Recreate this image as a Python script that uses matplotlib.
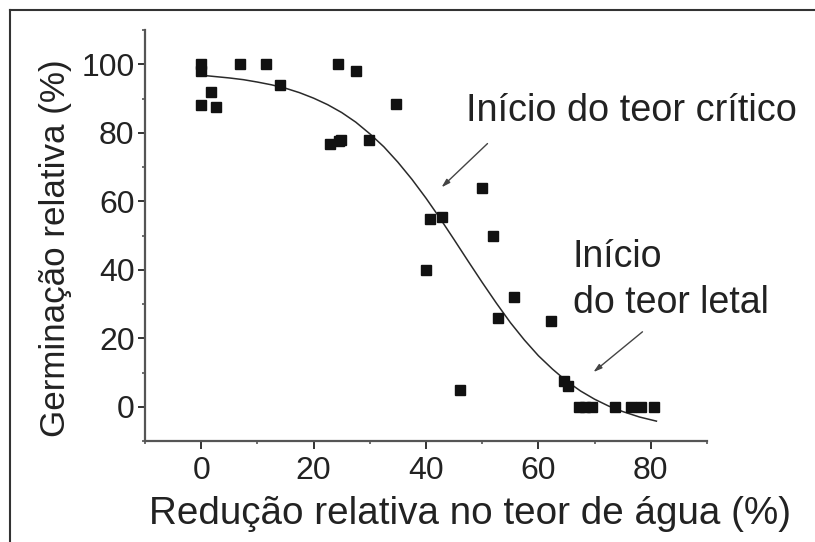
import numpy as np
import matplotlib
matplotlib.use("Agg")
import matplotlib.pyplot as plt
from matplotlib.lines import Line2D
from matplotlib.ticker import MultipleLocator

plt.rcParams['font.family'] = ['Liberation Sans', 'DejaVu Sans']

# Messpunkte
reducao = [0, 0, 0, 1.8, 2.7, 6.9, 11.5, 14.0, 22.9, 24.3, 24.5, 24.9, 27.6, 29.9,
           34.7, 40.0, 40.7, 42.9, 46.1, 49.9, 52.0, 52.9, 55.7, 62.3, 64.6, 65.2,
           67.3, 68.3, 69.5, 73.6, 76.5, 78.3, 80.6]
germinacao = [100, 98, 88, 92, 87.5, 100, 100, 94, 76.8, 100, 77.5, 78, 98, 78,
              88.5, 40, 54.8, 55.5, 5, 64, 50, 26, 32, 25, 7.5, 6, 0, 0, 0, 0, 0, 0, 0]

# angepasste Kurve
curva_x = [0, 2.5, 5, 7.5, 10, 12.5, 15, 17.5, 20, 22.5, 25, 27.5, 30, 32.5, 35,
           37.5, 40, 42.5, 45, 47.5, 50, 52.5, 55, 57.5, 60, 62.5, 65, 67.5, 70,
           72.5, 75, 78, 81]
curva_y = [96.8, 96.4, 96.0, 95.5, 94.8, 94.0, 93.0, 91.7, 90.1, 88.2, 85.9, 83.1,
           79.7, 75.9, 71.4, 66.4, 60.9, 55.0, 48.8, 42.5, 36.3, 30.3, 24.6, 19.5,
           14.9, 11.0, 7.5, 4.6, 2.2, 0.2, -1.4, -3.0, -4.2]

xticks = [0, 20, 40, 60, 80]
yticks = [0, 20, 40, 60, 80, 100]

fig = plt.figure(figsize=(8.15, 5.42), dpi=100)
ax = fig.add_axes([145 / 815, 101 / 542, 562 / 815, 411 / 542])

ax.plot(curva_x, curva_y, color='#2a2a2a', lw=1.1, zorder=2)
ax.plot(reducao, germinacao, 's', color='#111111', ms=7.2, zorder=3)

ax.set_xlim(-10, 90)
ax.set_ylim(-10, 110)
ax.set_xticks(xticks)
ax.set_yticks(yticks)
ax.xaxis.set_minor_locator(MultipleLocator(10))
ax.yaxis.set_minor_locator(MultipleLocator(10))

for s in ['top', 'right']:
    ax.spines[s].set_visible(False)
for s in ['left', 'bottom']:
    ax.spines[s].set_linewidth(1.6)
    ax.spines[s].set_color('#555555')

ax.tick_params(which='major', direction='out', length=5, width=1.4, color='#333333',
               labelsize=23, labelcolor='#222222', pad=2.5)
ax.tick_params(which='minor', direction='out', length=2.5, width=1.2, color='#555555')
ax.tick_params(axis='x', which='major', length=6, pad=5)

ax.set_xlabel("Redução relativa no teor de água (%)", fontsize=27.8, color='#222222')
ax.xaxis.set_label_coords(0.578, -0.135)
ax.set_ylabel("Germinação relativa (%)", fontsize=25.2, color='#222222')
ax.yaxis.set_label_coords(-0.13, 0.47)

# Anmerkungen
ax.text(47.1, 83.3, "Início do teor crítico", fontsize=27.3, color='#222222',
        va='baseline', ha='left', clip_on=False)
ax.annotate("", xy=(42.4, 63.5), xytext=(51.3, 77.4),
            arrowprops=dict(arrowstyle='-|>,head_length=0.5,head_width=0.15',
                            color='#444444', lw=1.0))
ax.text(66.1, 40.8, "Início", fontsize=27, color='#222222',
        va='baseline', ha='left', clip_on=False)
ax.text(66.1, 27.5, "do teor letal", fontsize=27, color='#222222',
        va='baseline', ha='left', clip_on=False)
ax.annotate("", xy=(69.4, 9.6), xytext=(78.9, 22.4),
            arrowprops=dict(arrowstyle='-|>,head_length=0.5,head_width=0.15',
                            color='#444444', lw=1.0))

# Rahmen oben und links
fig.add_artist(Line2D([10 / 815, 1], [1 - 10 / 542, 1 - 10 / 542],
                      transform=fig.transFigure, color='#333333', lw=1.5))
fig.add_artist(Line2D([10 / 815, 10 / 815], [0, 1 - 10 / 542],
                      transform=fig.transFigure, color='#333333', lw=1.5))

fig.savefig("out.png", dpi=100)
